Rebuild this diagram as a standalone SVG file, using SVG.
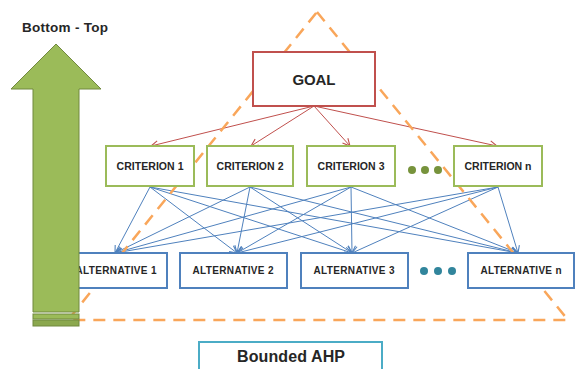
<svg xmlns="http://www.w3.org/2000/svg" width="575" height="369" viewBox="0 0 575 369">
<defs>
<marker id="mr" viewBox="0 0 10 10" refX="9" refY="5" markerWidth="9" markerHeight="9" markerUnits="userSpaceOnUse" orient="auto"><path d="M1,1 L9,5 L1,9" fill="none" stroke="#C0504D" stroke-width="1.2"/></marker>
<marker id="mb" viewBox="0 0 10 10" refX="9" refY="5" markerWidth="9" markerHeight="9" markerUnits="userSpaceOnUse" orient="auto"><path d="M1,1 L9,5 L1,9" fill="none" stroke="#4F81BD" stroke-width="1.2"/></marker>
</defs>
<style>
text{font-family:"Liberation Sans",Arial,sans-serif;font-weight:bold;fill:#262626;text-anchor:middle}
.crit{fill:#fff;stroke:#9BBB59;stroke-width:2}
.alt{fill:#fff;stroke:#4F81BD;stroke-width:2}
.r{stroke:#C0504D;stroke-width:1;fill:none;marker-end:url(#mr)}
.b{stroke:#4F81BD;stroke-width:1;fill:none;marker-end:url(#mb)}
.ct{font-size:10.5px}
.at{font-size:10px}
</style>
<rect width="575" height="369" fill="#fff"/>
<text x="65" y="32" style="font-size:13.5px" textLength="86">Bottom - Top</text>
<g id="connectors">
<path class="r" d="M314,106 L151,146"/>
<path class="r" d="M314,106 L251,146"/>
<path class="r" d="M314,106 L350,146"/>
<path class="r" d="M314,106 L497,146"/>
<g>
<path class="b" d="M150,187 L115,253"/>
<path class="b" d="M150,187 L237,253"/>
<path class="b" d="M150,187 L352,253"/>
<path class="b" d="M150,187 L518,253"/>
<path class="b" d="M250,187 L115,253"/>
<path class="b" d="M250,187 L237,253"/>
<path class="b" d="M250,187 L352,253"/>
<path class="b" d="M250,187 L518,253"/>
<path class="b" d="M351,187 L115,253"/>
<path class="b" d="M351,187 L237,253"/>
<path class="b" d="M351,187 L352,253"/>
<path class="b" d="M351,187 L518,253"/>
<path class="b" d="M498,187 L115,253"/>
<path class="b" d="M498,187 L237,253"/>
<path class="b" d="M498,187 L352,253"/>
<path class="b" d="M498,187 L518,253"/>
</g>
</g>
<path id="boundary" d="M317,12 L568,320 L68,320 Z" fill="none" stroke="#F9A65A" stroke-width="2.5" stroke-dasharray="12,8"/>
<g id="goal"><rect x="253" y="52" width="122" height="54" fill="#fff" stroke="#C0504D" stroke-width="2"/><text x="314" y="85" style="font-size:15px" textLength="43">GOAL</text></g>
<g id="criterion1"><rect class="crit" x="106" y="146" width="88" height="40"/><text class="ct" x="150" y="170" textLength="67">CRITERION 1</text></g>
<g id="criterion2"><rect class="crit" x="207" y="146" width="86" height="40"/><text class="ct" x="250" y="170" textLength="67">CRITERION 2</text></g>
<g id="criterion3"><rect class="crit" x="307" y="146" width="88" height="40"/><text class="ct" x="351" y="170" textLength="67">CRITERION 3</text></g>
<g id="criterionN"><rect class="crit" x="454" y="146" width="88" height="40"/><text class="ct" x="498" y="170" textLength="67">CRITERION n</text></g>
<g id="critDots" fill="#77933C"><circle cx="412" cy="170" r="4"/><circle cx="425" cy="170" r="4"/><circle cx="438" cy="170" r="4"/></g>
<g id="alternative1"><rect class="alt" x="60" y="253" width="107" height="35"/><text class="at" x="116" y="274" textLength="81">ALTERNATIVE 1</text></g>
<g id="alternative2"><rect class="alt" x="180" y="253" width="107" height="35"/><text class="at" x="233" y="274" textLength="81">ALTERNATIVE 2</text></g>
<g id="alternative3"><rect class="alt" x="301" y="253" width="107" height="35"/><text class="at" x="354" y="274" textLength="81">ALTERNATIVE 3</text></g>
<g id="alternativeN"><rect class="alt" x="468" y="253" width="106" height="35"/><text class="at" x="521" y="274" textLength="81">ALTERNATIVE n</text></g>
<g id="altDots" fill="#31859C"><circle cx="424" cy="271" r="4"/><circle cx="438" cy="271" r="4"/><circle cx="452" cy="271" r="4"/></g>
<g id="bottomTopArrow">
<path d="M56,44 L101,89 L79,89 L79,312 L33,312 L33,89 L11,89 Z" fill="#9BBB59" stroke="#71893F" stroke-width="1"/>
<rect x="33" y="314" width="46" height="5" fill="#9BBB59" stroke="#71893F" stroke-width="1"/>
<rect x="33" y="320" width="46" height="6" fill="#8BA84E" stroke="#71893F" stroke-width="1"/>
</g>
<g id="boundedAHP"><rect x="199" y="342" width="183" height="40" fill="#fff" stroke="#4BACC6" stroke-width="2"/><text x="291" y="362" style="font-size:16px" textLength="108">Bounded AHP</text></g>
</svg>
